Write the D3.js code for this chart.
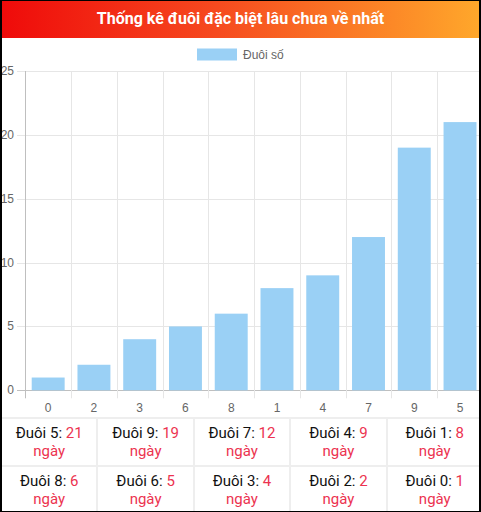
<!DOCTYPE html>
<html>
<head>
<meta charset="utf-8">
<script src="https://cdn.jsdelivr.net/npm/d3@7"></script>
<style>
  html, body { margin: 0; padding: 0; background: #000; }
  #box {
    position: absolute; left: 2px; top: 1px; width: 477px; height: 510px;
    background: #fff; overflow: hidden;
  }
  #head {
    position: absolute; left: -2px; top: 0; width: 481px; height: 37px;
    background: linear-gradient(to right, #ef0a0a, #f64a1f 45%, #ffa82b);
    color: #fff; font: bold 16px Roboto, sans-serif;
    text-align: center; line-height: 36px;
  }
  #chart { position: absolute; left: -2px; top: -1px; }
  #tbl {
    position: absolute; left: -2px; top: 416px; width: 484px;
    border-collapse: collapse; table-layout: fixed;
    font: 15px Roboto, sans-serif; color: #111;
  }
  #tbl td {
    border: 2px solid #eeeeee; height: 46px; padding: 0;
    text-align: center; vertical-align: middle; line-height: 18px;
  }
  .red { color: #ec3350; }
</style>
</head>
<body>
<div id="box">
  <div id="head">Thống kê đuôi đặc biệt lâu chưa về nhất</div>
  <svg id="chart" width="490" height="420"></svg>
  <table id="tbl"></table>
</div>
<script>
// tail digits, ordered as on the x axis
var digits = ["0", "2", "3", "6", "8", "1", "4", "7", "9", "5"];
// days since last seen
var days = [1, 2, 4, 5, 6, 8, 9, 12, 19, 21];
var yTicks = [0, 5, 10, 15, 20, 25];
var legendLabel = "Đuôi số";

var svg = d3.select("#chart");
var x = d3.scaleBand().domain(digits).range([25.3, 482.9]);
var y = d3.scaleLinear().domain([0, 25]).range([390.3, 71]);
var grid = "#e6e6e6", axisCol = "#bfbfbf", txt = "#666";
var font = "'Liberation Sans', Arial, sans-serif";

// horizontal grid + y labels
svg.append("g").selectAll("line").data(yTicks).join("line")
  .attr("x1", 17).attr("x2", 490)
  .attr("y1", function (d) { return Math.round(y(d)) + 0.5; })
  .attr("y2", function (d) { return Math.round(y(d)) + 0.5; })
  .attr("stroke", function (d) { return d === 0 ? axisCol : grid; });
svg.append("g").selectAll("text").data(yTicks).join("text")
  .attr("x", 14).attr("y", function (d) { return y(d) + 4; })
  .attr("text-anchor", "end").attr("font-family", font)
  .attr("font-size", 12).attr("fill", txt)
  .text(function (d) { return d; });

// vertical grid at band edges
var edges = digits.map(function (d) { return x(d); }).concat([x.range()[1]]);
svg.append("g").selectAll("line").data(edges).join("line")
  .attr("x1", function (d) { return Math.round(d) + 0.5; })
  .attr("x2", function (d) { return Math.round(d) + 0.5; })
  .attr("y1", y(25)).attr("y2", y(0) + 8)
  .attr("stroke", function (d, i) { return i === 0 ? axisCol : grid; });

// bars
var bw = x.bandwidth() * 0.72;
svg.append("g").selectAll("rect").data(days).join("rect")
  .attr("x", function (d, i) { return x(digits[i]) + (x.bandwidth() - bw) / 2; })
  .attr("y", function (d) { return y(d); })
  .attr("width", bw)
  .attr("height", function (d) { return y(0) - y(d); })
  .attr("fill", "#9ad0f5");

// x labels
svg.append("g").selectAll("text").data(digits).join("text")
  .attr("x", function (d) { return x(d) + x.bandwidth() / 2; })
  .attr("y", y(0) + 22)
  .attr("text-anchor", "middle").attr("font-family", font)
  .attr("font-size", 12).attr("fill", txt)
  .text(function (d) { return d; });

// legend
svg.append("rect").attr("x", 197).attr("y", 48.5).attr("width", 40)
  .attr("height", 12).attr("fill", "#9ad0f5");
svg.append("text").attr("x", 243).attr("y", 59)
  .attr("font-family", font).attr("font-size", 12).attr("fill", txt)
  .text(legendLabel);

// summary table: longest absent first
var order = d3.range(digits.length).sort(function (a, b) { return days[b] - days[a]; });
var rows = [order.slice(0, 5), order.slice(5, 10)];
d3.select("#tbl").selectAll("tr").data(rows).join("tr")
  .selectAll("td").data(function (r) { return r; }).join("td")
  .html(function (i) {
    return "Đuôi " + digits[i] + ": <span class='red'>" + days[i] +
      "</span><br><span class='red'>ngày</span>";
  });
</script>
</body>
</html>
